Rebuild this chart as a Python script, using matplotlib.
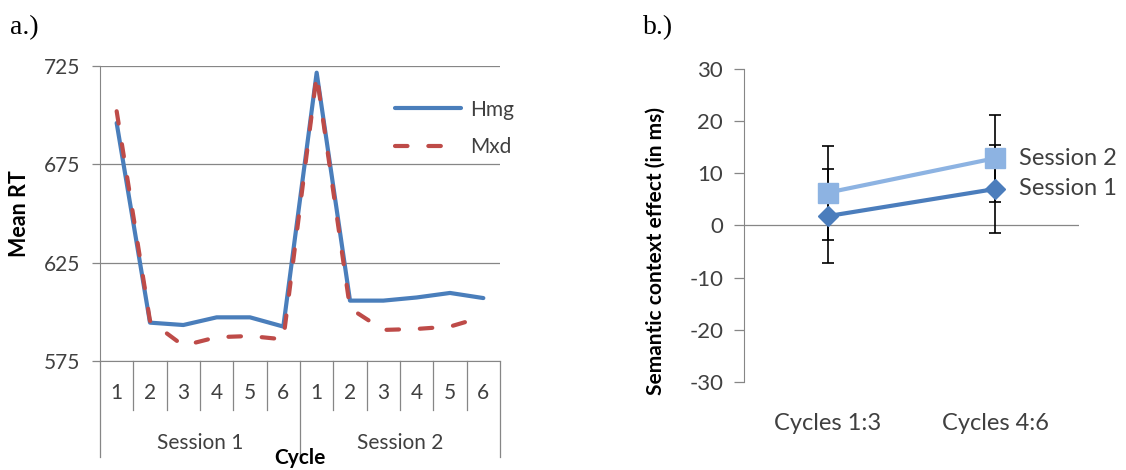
import matplotlib.pyplot as plt
import numpy as np

plt.rcParams['font.family'] = ['Lato', 'DejaVu Sans']
plt.rcParams['axes.unicode_minus'] = False

# panel a: mean RT per cycle, two sessions
cycles = ['1', '2', '3', '4', '5', '6', '1', '2', '3', '4', '5', '6']
sessions = ['Session 1', 'Session 2']
hmg = [696, 594.5, 593.3, 597.2, 597.2, 592.5, 721.6, 605.7, 605.7, 607.3, 609.6, 607.0]
mxd = [702, 595.4, 582.8, 587.1, 587.7, 586.0, 720.4, 601.8, 590.8, 591.3, 592.5, 597.5]

# panel b: semantic context effect with error bars
groups = ['Cycles 1:3', 'Cycles 4:6']
sess1 = [1.8, 7.0]
sess1_err = [9.0, 8.5]
sess2 = [6.3, 12.9]
sess2_err = [9.0, 8.3]

GRAY = '#868686'
BLUE = '#4A7EBB'
RED = '#BE4B48'
DARK = '#4B7DBC'
LIGHT = '#8DB3E2'
TXT = '#404040'

fig = plt.figure(figsize=(11.26, 4.70), dpi=100)

# ---------------- panel a ----------------
ax = fig.add_axes([100 / 1126, 1 - 361 / 470, 400 / 1126, 295 / 470])
x = np.arange(1, len(cycles) + 1)
ax.plot(x, hmg, color=BLUE, lw=3, label='Hmg', solid_capstyle='round', zorder=3)
ln, = ax.plot(x, mxd, color=RED, lw=3, label='Mxd', dash_capstyle='round', zorder=4)
ln.set_dashes([3, 5])  # scaled by linewidth

ax.set_xlim(0.5, len(cycles) + 0.5)
ax.set_ylim(575, 725)
ax.set_yticks([575, 625, 675, 725])
ax.grid(axis='y', color=GRAY, lw=0.9)
ax.set_axisbelow(True)
for s in ['top', 'right']:
    ax.spines[s].set_visible(False)
ax.spines['left'].set_color(GRAY)
ax.spines['bottom'].set_color(GRAY)
ax.tick_params(axis='y', colors=GRAY, length=6, width=0.9, pad=8, labelsize=15, labelcolor=TXT)
ax.set_xticks([])

# two-level category axis: cycle numbers over session names
trans = ax.get_xaxis_transform()
for i, lab in enumerate(cycles):
    ax.text(x[i], -0.11, lab, transform=trans, ha='center', va='center', fontsize=15, color=TXT)
for b in np.arange(0.5, len(cycles) + 1, 1):
    depth = -0.325 if b in (0.5, 6.5, 12.5) else -0.166
    ax.plot([b, b], [0, depth], transform=trans, color=GRAY, lw=0.9, clip_on=False)
for j, s in enumerate(sessions):
    ax.text(3.5 + 6 * j, -0.278, s, transform=trans, ha='center', va='center', fontsize=15, color=TXT)
ax.text(6.5, -0.33, 'Cycle', transform=trans, ha='center', va='center', fontsize=15, fontweight='bold')
ax.set_ylabel('Mean RT', fontsize=15.5, fontweight='bold')
ax.yaxis.set_label_coords(-0.175, 0.5)

leg = ax.legend(loc='upper left', bbox_to_anchor=(0.69, 0.95), frameon=False, fontsize=15,
                handlelength=3.2, handletextpad=0.4, labelspacing=0.85)
for t in leg.get_texts():
    t.set_color(TXT)

fig.text(10 / 1126, 1 - 28 / 470, 'a.)', fontsize=20, family='Liberation Serif', va='center')

# ---------------- panel b ----------------
bx = fig.add_axes([744 / 1126, 1 - 382 / 470, 335 / 1126, 313 / 470])
xb = np.arange(len(groups)) + 0.5
bx.errorbar(xb, sess1, yerr=sess1_err, fmt='none', ecolor='black', elinewidth=1.2, capsize=4.3, capthick=1.2, zorder=2)
bx.errorbar(xb, sess2, yerr=sess2_err, fmt='none', ecolor='black', elinewidth=1.2, capsize=4.3, capthick=1.2, zorder=2)
bx.plot(xb, sess1, color=DARK, lw=3, marker='D', markersize=10.5, zorder=4)
bx.plot(xb, sess2, color=LIGHT, lw=3, marker='s', markersize=15, zorder=3)
bx.annotate('Session 2', (xb[-1], sess2[-1]), xytext=(17, 0), textcoords='offset points',
            va='center', fontsize=17, color=TXT)
bx.annotate('Session 1', (xb[-1], sess1[-1]), xytext=(17, 0), textcoords='offset points',
            va='center', fontsize=17, color=TXT)

bx.set_xlim(0, len(groups))
bx.set_ylim(-30, 30)
bx.set_yticks(np.arange(-30, 31, 10))
bx.axhline(0, color=GRAY, lw=0.9, zorder=1)
for s in ['top', 'right', 'bottom']:
    bx.spines[s].set_visible(False)
bx.spines['left'].set_color(GRAY)
bx.tick_params(axis='y', colors=GRAY, length=7, width=0.9, pad=8, labelsize=16, labelcolor=TXT)
bx.set_xticks(xb)
bx.set_xticklabels(groups)
bx.tick_params(axis='x', length=0, pad=22, labelsize=17, labelcolor=TXT)
bx.set_ylabel('Semantic context effect (in ms)', fontsize=15, fontweight='bold')
bx.yaxis.set_label_coords(-0.235, 0.42)

fig.text(643 / 1126, 1 - 28 / 470, 'b.)', fontsize=20, family='Liberation Serif', va='center')

fig.savefig('out.png', dpi=100)
